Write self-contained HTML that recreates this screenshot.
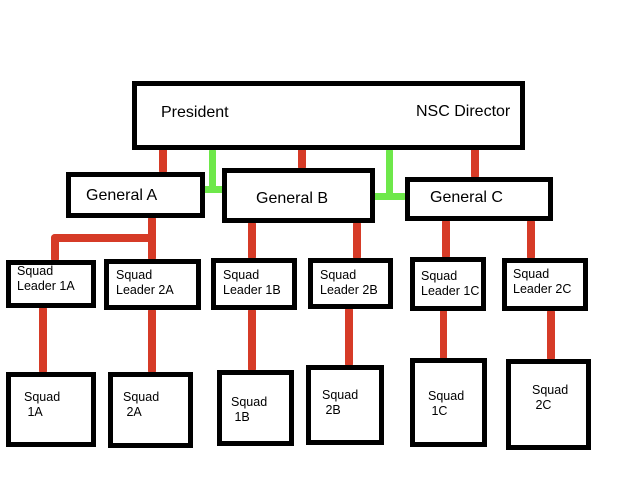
<!DOCTYPE html>
<html><head><meta charset="utf-8"><style>
body{margin:0;width:640px;height:480px;background:#fff;position:relative;overflow:hidden;font-family:"Liberation Sans",Arial,sans-serif;color:#000}
.b{position:absolute;box-sizing:border-box;border:5px solid #000;background:#fff}
.r{position:absolute;background:#d63b27;border-radius:4px}
.g{position:absolute;background:#6ee84a;border-radius:3px}
.t{position:absolute;font-size:16px;white-space:nowrap}
.s{position:absolute;font-size:12.5px;line-height:15px;white-space:nowrap}
</style></head><body>
<div class="r" style="left:159px;top:145px;width:8px;height:30px"></div>
<div class="r" style="left:298px;top:145px;width:8px;height:26px"></div>
<div class="r" style="left:471px;top:145px;width:8px;height:35px"></div>
<div class="g" style="left:209px;top:148px;width:7px;height:44px"></div>
<div class="g" style="left:202px;top:186px;width:25px;height:7px"></div>
<div class="g" style="left:386px;top:148px;width:7px;height:50px"></div>
<div class="g" style="left:370px;top:193px;width:37px;height:7px"></div>
<div class="r" style="left:148px;top:215px;width:8px;height:47px"></div>
<div class="r" style="left:51px;top:234px;width:105px;height:8px"></div>
<div class="r" style="left:51px;top:234px;width:8px;height:29px"></div>
<div class="r" style="left:248px;top:220px;width:8px;height:41px"></div>
<div class="r" style="left:353px;top:220px;width:8px;height:41px"></div>
<div class="r" style="left:442px;top:218px;width:8px;height:42px"></div>
<div class="r" style="left:527px;top:218px;width:8px;height:43px"></div>
<div class="r" style="left:39px;top:305px;width:8px;height:70px"></div>
<div class="r" style="left:148px;top:307px;width:8px;height:68px"></div>
<div class="r" style="left:248px;top:307px;width:8px;height:66px"></div>
<div class="r" style="left:345px;top:306px;width:8px;height:62px"></div>
<div class="r" style="left:440px;top:308px;width:7px;height:53px"></div>
<div class="r" style="left:547px;top:308px;width:8px;height:54px"></div>

<div class="b" style="left:132px;top:81px;width:393px;height:69px"></div>
<div class="t" style="left:161px;top:104px">President</div>
<div class="t" style="left:416px;top:103px">NSC Director</div>
<div class="b" style="left:66px;top:172px;width:139px;height:46px"></div>
<div class="t" style="left:86px;top:187px">General A</div>
<div class="b" style="left:222px;top:168px;width:153px;height:55px"></div>
<div class="t" style="left:256px;top:190px">General B</div>
<div class="b" style="left:405px;top:177px;width:148px;height:44px"></div>
<div class="t" style="left:430px;top:189px">General C</div>

<div class="b" style="left:6px;top:260px;width:90px;height:48px"></div>
<div class="s" style="left:17px;top:264px">Squad<br>Leader 1A</div>
<div class="b" style="left:104px;top:259px;width:97px;height:51px"></div>
<div class="s" style="left:116px;top:268px">Squad<br>Leader 2A</div>
<div class="b" style="left:211px;top:258px;width:86px;height:52px"></div>
<div class="s" style="left:223px;top:268px">Squad<br>Leader 1B</div>
<div class="b" style="left:308px;top:258px;width:85px;height:51px"></div>
<div class="s" style="left:320px;top:268px">Squad<br>Leader 2B</div>
<div class="b" style="left:410px;top:257px;width:76px;height:54px"></div>
<div class="s" style="left:421px;top:269px">Squad<br>Leader 1C</div>
<div class="b" style="left:502px;top:258px;width:86px;height:53px"></div>
<div class="s" style="left:513px;top:267px">Squad<br>Leader 2C</div>

<div class="b" style="left:6px;top:372px;width:90px;height:75px"></div>
<div class="s" style="left:24px;top:390px">Squad<br>&nbsp;1A</div>
<div class="b" style="left:108px;top:372px;width:85px;height:76px"></div>
<div class="s" style="left:123px;top:390px">Squad<br>&nbsp;2A</div>
<div class="b" style="left:217px;top:370px;width:77px;height:76px"></div>
<div class="s" style="left:231px;top:395px">Squad<br>&nbsp;1B</div>
<div class="b" style="left:306px;top:365px;width:78px;height:80px"></div>
<div class="s" style="left:322px;top:388px">Squad<br>&nbsp;2B</div>
<div class="b" style="left:410px;top:358px;width:77px;height:89px"></div>
<div class="s" style="left:428px;top:389px">Squad<br>&nbsp;1C</div>
<div class="b" style="left:506px;top:359px;width:85px;height:91px"></div>
<div class="s" style="left:532px;top:383px">Squad<br>&nbsp;2C</div>
</body></html>
